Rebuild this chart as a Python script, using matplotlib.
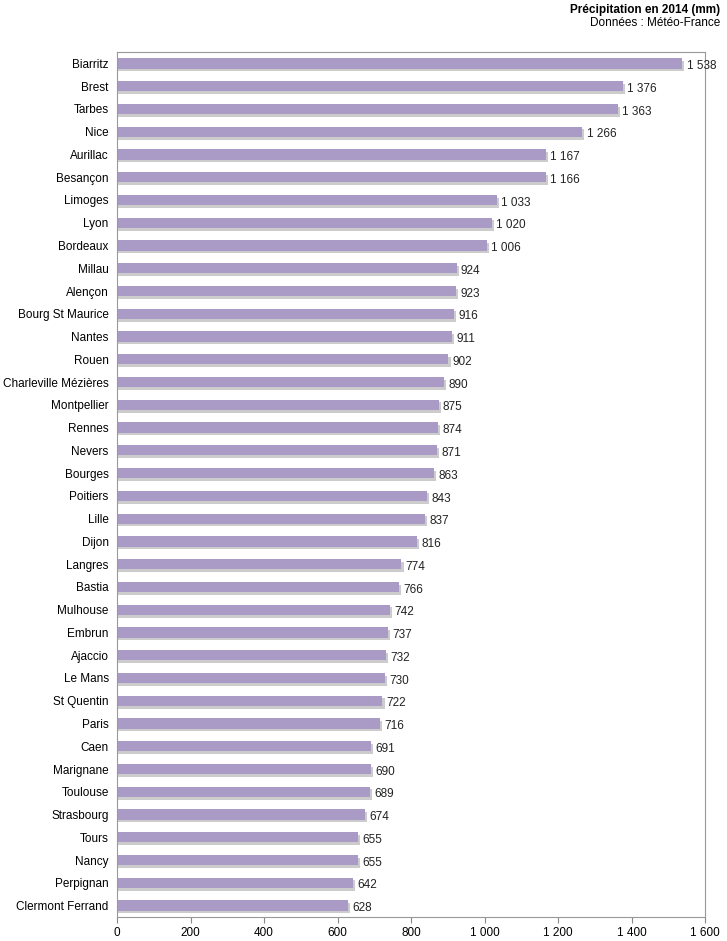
import matplotlib
matplotlib.use("Agg")
import matplotlib.pyplot as plt

plt.rcParams["font.family"] = "Liberation Sans"

cities = ["Biarritz","Brest","Tarbes","Nice","Aurillac","Besançon","Limoges","Lyon","Bordeaux",
          "Millau","Alençon","Bourg St Maurice","Nantes","Rouen","Charleville Mézières","Montpellier",
          "Rennes","Nevers","Bourges","Poitiers","Lille","Dijon","Langres","Bastia","Mulhouse",
          "Embrun","Ajaccio","Le Mans","St Quentin","Paris","Caen","Marignane","Toulouse",
          "Strasbourg","Tours","Nancy","Perpignan","Clermont Ferrand"]
values = [1538,1376,1363,1266,1167,1166,1033,1020,1006,924,923,916,911,902,890,875,874,871,863,
          843,837,816,774,766,742,737,732,730,722,716,691,690,689,674,655,655,642,628]
xticks = [0,200,400,600,800,1000,1200,1400,1600]

def fmt(v):
    return f"{v:,}".replace(",", " ")

fig = plt.figure(figsize=(7.27,9.41), dpi=100)
ax = fig.add_axes([117/727, 1-917/941, (705-117)/727, (917-52)/941])
n = len(cities)
ys = list(range(n))
h = 0.45
ax.barh([y+0.12 for y in ys], [v+6 for v in values], height=h, color="#cccccc", zorder=1)
ax.barh(ys, values, height=h, color="#a99bc6", zorder=2)
for y, v in zip(ys, values):
    ax.text(v+12, y+0.05, fmt(v), va="center_baseline", ha="left", fontsize=8.5, color="#222222")
ax.set_yticks(ys)
ax.set_yticklabels(cities, fontsize=8.5)
ax.set_ylim(n-0.5, -0.5)
ax.set_xlim(0, 1600)
ax.set_xticks(xticks)
ax.set_xticklabels([fmt(t) for t in xticks], fontsize=8.5)
ax.tick_params(axis="y", length=0, pad=6)
ax.tick_params(axis="x", length=4, color="#888888")
for s in ax.spines.values():
    s.set_color("#999999")
    s.set_linewidth(0.8)
fig.text(720/727, 1-10/941, "Précipitation en 2014 (mm)", ha="right", va="center", fontsize=8.5, fontweight="bold")
fig.text(720/727, 1-23/941, "Données : Météo-France", ha="right", va="center", fontsize=8.5)
fig.savefig("out.png", dpi=100)
